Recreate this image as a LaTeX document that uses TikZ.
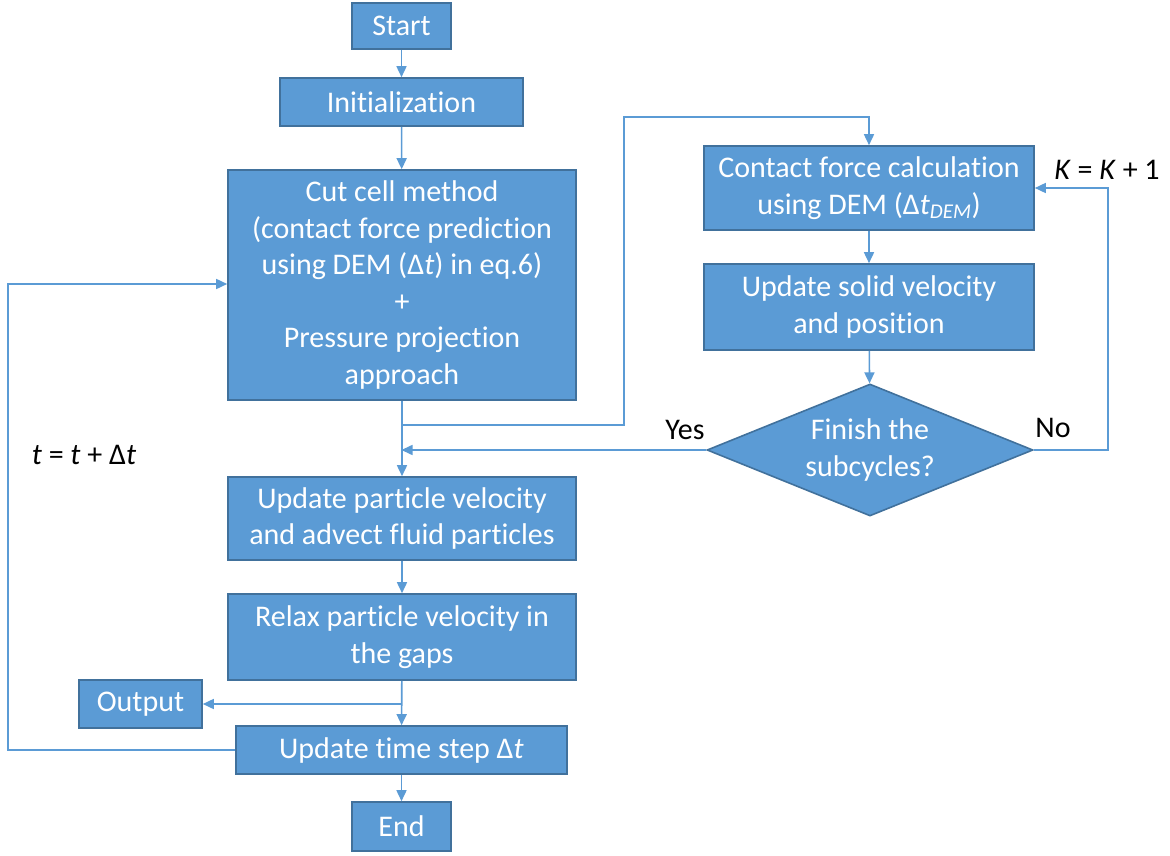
\documentclass[tikz,border=0pt]{standalone}
\usepackage{fontspec}
\setmainfont{Carlito}[Ligatures=NoCommon]
\usetikzlibrary{shapes.geometric,arrows.meta}
\definecolor{boxfill}{HTML}{5B9BD5}
\definecolor{boxdraw}{HTML}{41719C}
\definecolor{linecol}{HTML}{5B9BD5}
\newcommand{\fsz}{\fontsize{30}{36.5}\selectfont}
\tikzset{
  fbox/.style={draw=boxdraw, fill=boxfill, line width=1.6pt, text=white, align=center, font=\fsz, inner sep=0pt},
  conn/.style={draw=linecol, line width=1.6pt, -{Triangle[length=11pt,width=10pt]}},
  lbl/.style={font=\fsz, text=black, inner sep=0pt}
}
\begin{document}
\begin{tikzpicture}[x=1pt,y=-1pt]
\useasboundingbox (0,0) rectangle (1170,856);
% main column
\node[fbox, minimum width=99pt, minimum height=46pt] (start) at (401.5,26) {Start};
\node[fbox, minimum width=243pt, minimum height=48pt] (init) at (401.5,102) {Initialization};
\node[fbox, minimum width=348pt, minimum height=230pt] (cut) at (402,285) {Cut cell method\\ (contact force prediction\\using DEM (Δ\textit{t}) in eq.6)\\+\\Pressure projection\\approach};
\node[fbox, minimum width=348pt, minimum height=83pt] (upv) at (402,518.5) {Update particle velocity\\and advect fluid particles};
\node[fbox, minimum width=348pt, minimum height=86pt] (relax) at (402,637) {Relax particle velocity in\\the gaps};
\node[fbox, minimum width=123pt, minimum height=48pt] (out) at (140.5,704) {Output};
\node[fbox, minimum width=331pt, minimum height=48pt] (uts) at (401.5,750) {Update time step Δ\textit{t}};
\node[fbox, minimum width=99pt, minimum height=49pt] (end) at (401.5,826.5) {End};
% right column
\node[fbox, minimum width=330pt, minimum height=84pt] (cfc) at (869,188) {Contact force calculation\\using DEM (Δ\textit{t}\textsubscript{\textit{DEM}})};
\node[fbox, minimum width=330pt, minimum height=86pt] (usv) at (869,307) {Update solid velocity\\and position};
\node[fbox, shape=diamond, aspect=2.47, minimum width=326pt, minimum height=132pt] (dia) at (870,450) {Finish the\\subcycles?};
% labels
\node[lbl, anchor=center] (yes) at (685,430) {Yes};
\node[lbl, anchor=center] (no) at (1053,428) {No};
\node[lbl, anchor=center] (kk) at (1107,170) {\textit{K} = \textit{K} + 1};
\node[lbl, anchor=center] (tt) at (84,455) {\textit{t} = \textit{t} + Δ\textit{t}};
% coordinates
\coordinate (j1) at (401.5,425);
\coordinate (j2) at (401.5,450);
\coordinate (j3) at (401.5,704);
% connectors
\draw[conn] (start) -- (init);
\draw[conn] (init) -- (cut);
\draw[conn] (cut) -- (upv);
\draw[conn] (upv) -- (relax);
\draw[conn] (relax) -- (uts);
\draw[conn] (uts) -- (end);
\draw[conn] (j3) -- (out.east);
\draw[conn] (j1) -- (624,425) -- (624,117) -| (cfc.north);
\draw[conn] (cfc) -- (usv);
\draw[conn] (usv) -- (dia);
\draw[conn] (dia.west) -- (j2);
\draw[conn] (dia.east) -- (1108,450) |- (cfc.east);
\draw[conn] (uts.west) -- (8,750) |- (cut.west |- 0,284);
\end{tikzpicture}
\end{document}
